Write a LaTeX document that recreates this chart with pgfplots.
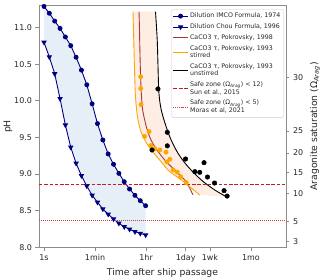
\documentclass[border=0pt]{standalone}
\usepackage{fontspec}
\setmainfont{DejaVu Sans}
\usepackage{pgfplots}
\pgfplotsset{compat=1.18}
\definecolor{navyc}{RGB}{0,0,128}
\definecolor{bluefill}{RGB}{230,238,247}
\definecolor{peach}{RGB}{253,237,226}
\definecolor{pok98}{RGB}{170,55,55}
\definecolor{orangec}{RGB}{255,165,0}
\definecolor{safered}{RGB}{195,30,30}
\definecolor{spine}{RGB}{140,140,140}
\definecolor{txt}{RGB}{38,38,38}
\begin{document}
\begin{tikzpicture}
\path[use as bounding box] (-39bp,-29.7bp) rectangle (281bp,247.3bp);
\pgfplotsset{
  common/.style={
    scale only axis, width=247bp, height=241.6bp,
    xmin=-0.174, xmax=8.43, ymin=8, ymax=11.3,
    axis line style={spine, line width=0.8pt},
    tick style={spine, line width=0.8pt},
    tick align=outside,
    major tick length=3.5bp,
    /pgf/number format/assume math mode=true,
    tick label style={font=\fontsize{8}{9.5}\selectfont, text=txt},
    label style={font=\fontsize{9.3}{11}\selectfont, text=txt},
  }
}
\begin{axis}[common,
  tick pos=left,
  xtick={0,1.778,3.556,4.936,5.782,7.21},
  xticklabels={1s,1min,1hr,1day,1wk,1mo},
  ytick={8,8.5,9,9.5,10,10.5,11},
  yticklabel style={/pgf/number format/.cd,fixed,fixed zerofill,precision=1},
  xlabel={Time after ship passage},
  ylabel={pH},
  ylabel shift=-5bp,
  legend style={at={(rel axis cs:0.992,0.985)}, anchor=north east,
    font=\fontsize{6.3}{7.4}\selectfont, draw=black!20, rounded corners=1.5pt,
    cells={anchor=west, align=left}, row sep=0.6pt, inner sep=1.5pt, text=txt},
  legend image code/.code={\draw[mark repeat=2,mark phase=2] plot coordinates {(0cm,0cm) (0.25cm,0cm) (0.5cm,0cm)};},
]
% blue fill between dilution curves
\addplot[draw=none, fill=bluefill, forget plot] coordinates {
(0,11.29) (0.186,11.197) (0.373,11.09) (0.559,10.99) (0.745,10.873) (0.932,10.754) (1.118,10.596) (1.304,10.42) (1.491,10.22) (1.677,9.96) (1.863,9.69) (2.05,9.466) (2.236,9.275) (2.422,9.134) (2.609,9.01) (2.795,8.896) (2.981,8.796) (3.168,8.71) (3.354,8.637) (3.54,8.568)
(3.54,8.168) (3.354,8.19) (3.168,8.213) (2.981,8.246) (2.795,8.28) (2.609,8.328) (2.422,8.387) (2.236,8.451) (2.05,8.523) (1.863,8.615) (1.677,8.71) (1.491,8.837) (1.304,8.978) (1.118,9.147) (0.932,9.366) (0.745,9.67) (0.559,10.03) (0.373,10.37) (0.186,10.60) (0,10.80)
} -- cycle;
% peach fill between stirred and unstirred
\addplot[draw=none, fill=peach, forget plot] coordinates {
(3.100,11.22) (3.115,11.0) (3.135,10.7) (3.155,10.4) (3.18,10.104) (3.22,9.9) (3.275,9.74) (3.36,9.6) (3.449,9.511) (3.58,9.42) (3.739,9.329) (4.031,9.192) (4.321,9.055) (4.55,8.985) (4.784,8.919) (5.1,8.82) (5.425,8.714)
(6.352,8.691) (5.948,8.783) (5.481,8.919) (5.017,9.101) (4.669,9.284) (4.380,9.511) (4.146,9.784) (4.05,9.95) (3.997,10.15) (3.97,10.5) (3.948,10.8) (3.92,11.0) (3.885,11.22)
} -- cycle;
% IMCO
\addplot[navyc, line width=0.9pt, mark=*, mark size=2bp] coordinates {
(0,11.29) (0.186,11.197) (0.373,11.09) (0.559,10.99) (0.745,10.873) (0.932,10.754) (1.118,10.596) (1.304,10.42) (1.491,10.22) (1.677,9.96) (1.863,9.69) (2.05,9.466) (2.236,9.275) (2.422,9.134) (2.609,9.01) (2.795,8.896) (2.981,8.796) (3.168,8.71) (3.354,8.637) (3.54,8.568)
};
\addlegendentry{Dilution IMCO Formula, 1974}
% Chou
\addplot[navyc, line width=0.9pt, mark=triangle*, mark size=2.3bp, mark options={rotate=180}] coordinates {
(0,10.80) (0.186,10.60) (0.373,10.37) (0.559,10.03) (0.745,9.67) (0.932,9.366) (1.118,9.147) (1.304,8.978) (1.491,8.837) (1.677,8.71) (1.863,8.615) (2.05,8.523) (2.236,8.451) (2.422,8.387) (2.609,8.328) (2.795,8.28) (2.981,8.246) (3.168,8.213) (3.354,8.19) (3.54,8.168)
};
\addlegendentry{Dilution Chou Formula, 1996}
% Pokrovsky 1998
\addplot[pok98, line width=0.9pt, smooth, tension=0.5] coordinates {
(3.31,11.22) (3.325,11.0) (3.34,10.7) (3.36,10.4) (3.39,10.104) (3.44,9.87) (3.564,9.648) (3.69,9.5) (3.857,9.374) (4.03,9.28) (4.206,9.192) (4.554,9.055) (4.902,8.919) (5.06,8.82) (5.192,8.714)
};
\addlegendentry{CaCO3 τ, Pokrovsky, 1998}
% stirred
\addplot[orangec, line width=0.9pt, smooth, tension=0.5] coordinates {
(3.100,11.22) (3.115,11.0) (3.135,10.7) (3.155,10.4) (3.18,10.104) (3.22,9.9) (3.275,9.74) (3.36,9.6) (3.449,9.511) (3.58,9.42) (3.739,9.329) (4.031,9.192) (4.321,9.055) (4.55,8.985) (4.784,8.919) (5.1,8.82) (5.425,8.714)
};
\addlegendentry{CaCO3 τ, Pokrovsky, 1993\\stirred}
% unstirred
\addplot[black, line width=0.9pt, smooth, tension=0.5] coordinates {
(3.885,11.22) (3.92,11.0) (3.948,10.8) (3.97,10.5) (3.997,10.15) (4.05,9.95) (4.146,9.784) (4.380,9.511) (4.669,9.284) (5.017,9.101) (5.481,8.919) (5.948,8.783) (6.352,8.691)
};
\addlegendentry{CaCO3 τ, Pokrovsky, 1993\\unstirred}
% safe zones
\addplot[safered, line width=0.9pt, dash pattern=on 3.5pt off 1.8pt] coordinates {(-0.174,8.865) (8.43,8.865)};
\addlegendentry{Safe zone (Ω\textsubscript{\itshape Arag}) < 12)\\Sun et al., 2015}
\addplot[safered!85, line width=0.9pt, dash pattern=on 0.9pt off 1.1pt] coordinates {(-0.174,8.36) (8.43,8.36)};
\addlegendentry{Safe zone (Ω\textsubscript{\itshape Arag}) < 5)\\Moras et al, 2021}
% data dots
\addplot[only marks, mark=*, mark size=2.2bp, orangec, forget plot] coordinates {
(3.37,10.33) (3.37,10.17) (3.38,9.95) (3.50,9.515) (3.66,9.58) (3.72,9.39) (3.86,9.345) (4.035,9.33) (4.25,9.30) (4.385,9.203) (4.28,9.165) (4.50,9.056) (4.64,9.027) (4.76,8.964) (4.955,8.883)
};
\addplot[only marks, mark=*, mark size=2.3bp, black, forget plot] coordinates {
(3.97,10.163) (4.296,9.571) (4.296,9.386) (3.763,9.329) (4.93,9.206) (5.575,9.156) (5.255,9.033) (5.425,9.024) (5.695,8.96) (5.94,8.878) (6.272,8.774) (6.38,8.70)
};
\end{axis}
\begin{axis}[common,
  axis x line=none,
  axis y line*=right,
  ytick={8.079,8.357,8.738,9.022,9.288,9.589,10.320},
  yticklabels={3,5,10,15,20,25,30},
  ylabel={Aragonite saturation (Ω\textsubscript{\itshape Arag})},
]
\addplot[draw=none] coordinates {(0,9)};
\end{axis}
\end{tikzpicture}
\end{document}
